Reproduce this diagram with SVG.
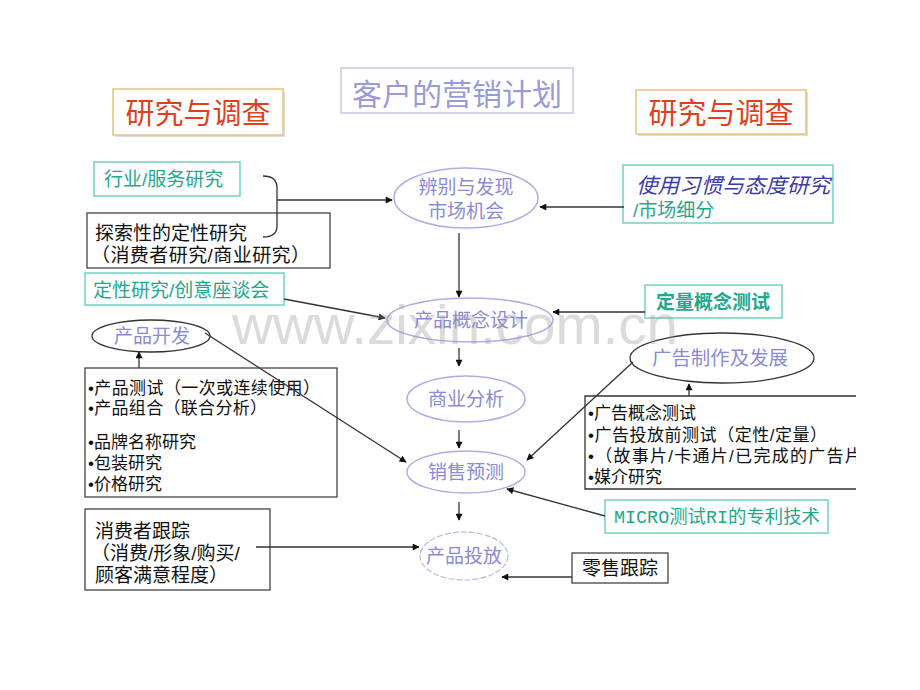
<svg xmlns="http://www.w3.org/2000/svg" width="920" height="690" viewBox="0 0 920 690">
<defs>
<marker id="ah" viewBox="0 0 10 10" refX="9" refY="5" markerWidth="8" markerHeight="7" markerUnits="userSpaceOnUse" orient="auto">
<path d="M0,0 L10,5 L0,10 z" fill="#111"/>
</marker>
<clipPath id="clipR"><rect x="0" y="0" width="856" height="690"/></clipPath>
<style>
.cjk{font-family:"Liberation Sans","Noto Sans CJK SC",sans-serif}
.red{fill:#e0401c;font-size:29px}
.hdr{fill:#fff;stroke:#e8c27e;stroke-width:1.5}
.shd{fill:#ddd}
.tealb{fill:#fff;stroke:#72d2c2;stroke-width:1.5}
.teal{fill:#1ea88c;font-size:19px}
.blkb{fill:#fff;stroke:#444;stroke-width:1.3}
.blk{fill:#111;font-size:17px}
.blk19{fill:#111;font-size:19px}
.lav{fill:#8a8ad6;font-size:19px}
.ell{fill:#fff;stroke:#aeaee6;stroke-width:1.5}
.ellk{fill:#fff;stroke:#333;stroke-width:1.3}
.con{stroke:#333;stroke-width:1.3;fill:none}
</style>
</defs>
<rect width="920" height="690" fill="#fff"/>

<g id="title">
<rect x="341" y="68" width="232" height="45" fill="#fff" stroke="#c8c8ec" stroke-width="1.5"/>
<text class="cjk" x="457" y="105" text-anchor="middle" fill="#9a9ad8" font-size="30">客户的营销计划</text>
</g>

<g id="hdr-left">
<rect class="shd" x="115" y="91" width="170" height="46"/>
<rect class="hdr" x="113" y="89" width="170" height="46"/>
<text class="cjk red" x="198" y="124" text-anchor="middle">研究与调查</text>
</g>

<g id="hdr-right">
<rect class="shd" x="638" y="92" width="170" height="44"/>
<rect class="hdr" x="636" y="90" width="170" height="44"/>
<text class="cjk red" x="721" y="124" text-anchor="middle">研究与调查</text>
</g>

<g id="industry">
<rect class="tealb" x="94" y="162" width="146" height="34"/>
<text class="cjk teal" x="104" y="186">行业/服务研究</text>
</g>

<g id="explore">
<rect class="blkb" x="87" y="213" width="243" height="55"/>
<text class="cjk blk19" x="95" y="240">探索性的定性研究</text>
<text class="cjk blk19" x="91" y="262" textLength="219" lengthAdjust="spacing">（消费者研究/商业研究）</text>
</g>

<g id="usage">
<rect class="tealb" x="623" y="165" width="210" height="58"/>
<text class="cjk" x="636" y="193" fill="#3b3ba6" font-size="21" font-style="italic" textLength="194" lengthAdjust="spacingAndGlyphs">使用习惯与态度研究</text>
<text class="cjk teal" x="633" y="217">/市场细分</text>
</g>

<g id="qual">
<rect class="tealb" x="85" y="273" width="199" height="32"/>
<text class="cjk teal" x="93" y="297">定性研究/创意座谈会</text>
</g>

<g id="quant">
<rect class="tealb" x="645" y="285" width="137" height="33"/>
<text class="cjk teal" x="713" y="309" text-anchor="middle" font-weight="bold">定量概念测试</text>
</g>

<g id="identify">
<ellipse class="ell" cx="466" cy="198" rx="72" ry="30"/>
<text class="cjk lav" x="466" y="194" text-anchor="middle">辨别与发现</text>
<text class="cjk lav" x="466" y="218" text-anchor="middle">市场机会</text>
</g>

<g id="concept">
<ellipse class="ell" cx="470" cy="320" rx="83" ry="22"/>
<text class="cjk lav" x="471" y="327" text-anchor="middle">产品概念设计</text>
</g>

<g id="business">
<ellipse class="ell" cx="466" cy="399" rx="59" ry="23"/>
<text class="cjk lav" x="466" y="406" text-anchor="middle">商业分析</text>
</g>

<g id="forecast">
<ellipse class="ell" cx="466" cy="472" rx="59" ry="21"/>
<text class="cjk lav" x="466" y="479" text-anchor="middle">销售预测</text>
</g>

<g id="launch">
<ellipse cx="464" cy="556" rx="44" ry="24" fill="#fff" stroke="#b8b8e8" stroke-width="1.2" stroke-dasharray="6 2"/>
<text class="cjk lav" x="464" y="563" text-anchor="middle">产品投放</text>
</g>

<g id="proddev">
<ellipse class="ellk" cx="151" cy="336" rx="59" ry="16"/>
<text class="cjk lav" x="152" y="343" text-anchor="middle">产品开发</text>
</g>

<g id="adprod">
<ellipse class="ellk" cx="722" cy="358" rx="92" ry="25"/>
<text class="cjk lav" x="720" y="365" text-anchor="middle" font-size="20" textLength="136" lengthAdjust="spacingAndGlyphs">广告制作及发展</text>
</g>

<g id="prodtests">
<rect class="blkb" x="85" y="368" width="252" height="129"/>
<text class="cjk blk" x="88" y="394" textLength="232" lengthAdjust="spacing">•产品测试（一次或连续使用）</text>
<text class="cjk blk" x="88" y="414" textLength="179" lengthAdjust="spacing">•产品组合（联合分析）</text>
<text class="cjk blk" x="88" y="448">•品牌名称研究</text>
<text class="cjk blk" x="88" y="469">•包装研究</text>
<text class="cjk blk" x="88" y="490">•价格研究</text>
</g>

<g id="adtests" clip-path="url(#clipR)">
<path class="con" d="M880,396 H585 V489 H880"/>
<text class="cjk blk" x="588" y="419">•广告概念测试</text>
<text class="cjk blk" x="588" y="441" textLength="239" lengthAdjust="spacing">•广告投放前测试（定性/定量）</text>
<text class="cjk blk" x="588" y="462" textLength="292" lengthAdjust="spacing">•（故事片/卡通片/已完成的广告片）</text>
<text class="cjk blk" x="588" y="483">•媒介研究</text>
</g>

<g id="micro">
<rect class="tealb" x="605" y="500" width="223" height="33"/>
<text x="614" y="523" fill="#1ea88c" font-size="18" font-family="'Liberation Mono','Noto Sans CJK SC',monospace" textLength="206" lengthAdjust="spacingAndGlyphs">MICRO测试RI的专利技术</text>
</g>

<g id="retail">
<rect class="blkb" x="572" y="553" width="96" height="30"/>
<text class="cjk blk19" x="620" y="575" text-anchor="middle">零售跟踪</text>
</g>

<g id="consumer">
<rect class="blkb" x="85" y="509" width="185" height="81"/>
<text class="cjk blk19" x="95" y="538">消费者跟踪</text>
<text class="cjk blk19" x="91" y="560">（消费/形象/购买/</text>
<text class="cjk blk19" x="95" y="582">顾客满意程度）</text>
</g>

<g id="connectors">
<path class="con" d="M263,176 Q277,176 277,188 V226 Q277,237 263,237"/>
<path class="con" d="M277,200 H392" marker-end="url(#ah)"/>
<path class="con" d="M624,207 H540" marker-end="url(#ah)"/>
<path class="con" d="M459,233 V297" marker-end="url(#ah)"/>
<path class="con" d="M284,299 L385,318" marker-end="url(#ah)"/>
<path class="con" d="M645,312 H553" marker-end="url(#ah)"/>
<path class="con" d="M459,348 V366" marker-end="url(#ah)"/>
<path class="con" d="M459,430 V448" marker-end="url(#ah)"/>
<path class="con" d="M459,502 V520" marker-end="url(#ah)"/>
<path class="con" d="M139,368 V352" marker-end="url(#ah)"/>
<path class="con" d="M689,396 V384" marker-end="url(#ah)"/>
<path class="con" d="M205,333 L406,462" marker-end="url(#ah)"/>
<path class="con" d="M633,362 L527,460" marker-end="url(#ah)"/>
<path class="con" d="M605,516 L507,489" marker-end="url(#ah)"/>
<path class="con" d="M572,577 H502" marker-end="url(#ah)"/>
<path class="con" d="M256,547 H419" marker-end="url(#ah)"/>
</g>

<text x="232" y="344" font-family="'Liberation Sans',sans-serif" font-size="56" fill="#999" fill-opacity="0.35" textLength="446" lengthAdjust="spacingAndGlyphs">www.zixin.com.cn</text>
</svg>
